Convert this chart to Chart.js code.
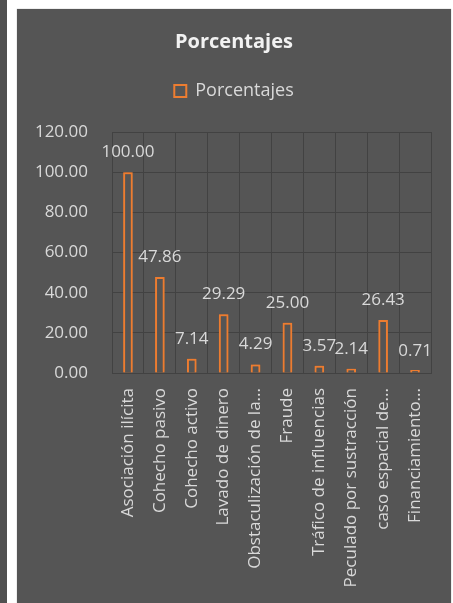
<!DOCTYPE html>
<html>
<head>
<meta charset="utf-8">
<script src="https://cdn.jsdelivr.net/npm/chart.js@4/dist/chart.umd.min.js"></script>
<style>
html,body{margin:0;padding:0;background:#ffffff;width:453px;height:603px;overflow:hidden;}
#strip{position:absolute;left:0;top:0;width:7px;height:603px;background:#505050;}
#panel{position:absolute;left:17px;top:9px;width:434px;height:594px;background:#555555;box-shadow:0 0 1px #999;}
canvas{display:block;}
</style>
</head>
<body>
<div id="strip"></div>
<div id="panel"><canvas id="c" width="434" height="594"></canvas></div>
<script>
const categories = ["Asociación ilícita","Cohecho pasivo","Cohecho activo","Lavado de dinero","Obstaculización de la...","Fraude","Tráfico de influencias","Peculado por sustracción","caso espacial de...","Financiamiento..."];
const values = [100.00, 47.86, 7.14, 29.29, 4.29, 25.00, 3.57, 2.14, 26.43, 0.71];
const seriesName = "Porcentajes";
const titleText = "Porcentajes";
const yMax = 120;
const yStep = 20;

const FONT = "'Open Sans', 'DejaVu Sans', sans-serif";
const ORANGE = "#ED7D31";
const TEXT = "#d9d9d9";

const legendGap = {
  id: 'legendGap',
  beforeInit(chart){
    const lg = chart.legend;
    if (!lg) return;
    const orig = lg.fit;
    lg.fit = function(){ orig.apply(this, arguments); this.height += 22; };
  },
  afterLayout(chart){
    [chart.titleBlock, chart.legend].forEach(b => {
      if (!b) return;
      b.left = 0; b.right = chart.width; b.width = chart.width;
    });
  }
};
const glow = {
  id: 'glow',
  beforeDatasetDraw(chart){ const c = chart.ctx; c.save(); c.shadowColor = 'rgba(237,125,49,0.9)'; c.shadowBlur = 5; },
  afterDatasetDraw(chart){ chart.ctx.restore(); }
};
const dataLabels = {
  id: 'dataLabels',
  afterDatasetsDraw(chart){
    const c = chart.ctx;
    const meta = chart.getDatasetMeta(0);
    const yScale = chart.scales.y;
    c.save();
    c.font = "17px " + FONT;
    c.fillStyle = TEXT;
    c.textAlign = 'center';
    c.textBaseline = 'middle';
    meta.data.forEach((bar, i) => {
      c.fillText(values[i].toFixed(2), bar.x, yScale.getPixelForValue(values[i]) - 20);
    });
    c.restore();
  }
};

new Chart(document.getElementById('c'), {
  type: 'bar',
  data: {
    labels: categories,
    datasets: [{
      label: seriesName,
      data: values,
      backgroundColor: 'rgba(85,85,85,1)',
      borderColor: ORANGE,
      borderWidth: 2,
      categoryPercentage: 1.0,
      barPercentage: 0.3,
      minBarLength: 3
    }]
  },
  options: {
    responsive: false,
    animation: false,
    devicePixelRatio: 1,
    layout: { padding: { left: 0, right: 11, top: 0, bottom: 0 } },
    plugins: {
      title: {
        display: true,
        text: titleText,
        color: '#f2f2f2',
        font: { family: FONT, size: 20, weight: 'bold' },
        padding: { top: 21, bottom: 18 }
      },
      legend: {
        display: true,
        labels: {
          color: TEXT,
          font: { family: FONT, size: 18 },
          boxWidth: 12,
          boxHeight: 12,
          padding: 10
        }
      },
      tooltip: { enabled: false }
    },
    scales: {
      x: {
        grid: { color: '#424242', lineWidth: 1, drawTicks: false, offset: true },
        border: { color: '#424242' },
        ticks: {
          color: TEXT,
          font: { family: FONT, size: 17 },
          autoSkip: false,
          maxRotation: 90,
          minRotation: 90,
          padding: 15
        },
        afterFit(scale){ scale.height = 230; }
      },
      y: {
        min: 0,
        max: yMax,
        grid: { color: '#424242', lineWidth: 1, drawTicks: false },
        border: { display: false },
        ticks: {
          stepSize: yStep,
          color: TEXT,
          font: { family: FONT, size: 17 },
          padding: 24,
          callback: v => Number(v).toFixed(2)
        },
        afterFit(scale){ scale.width = 95; }
      }
    }
  },
  plugins: [legendGap, glow, dataLabels]
});
</script>
</body>
</html>
